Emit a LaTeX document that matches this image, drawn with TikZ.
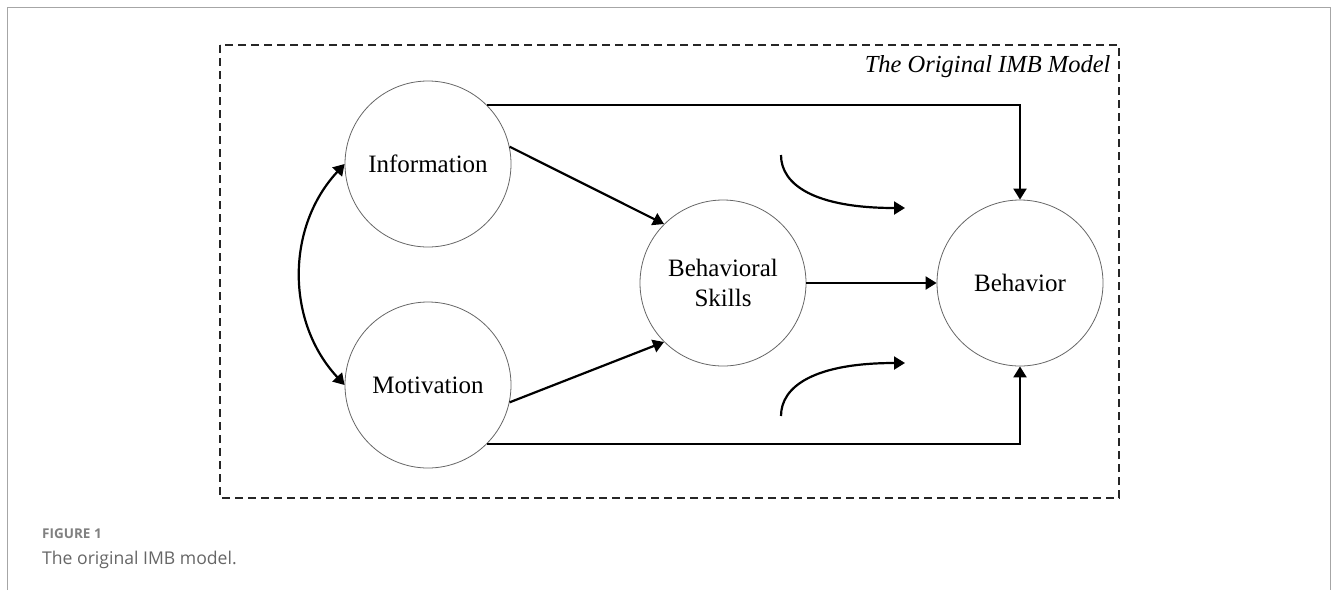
\documentclass[tikz,border=0pt]{standalone}
\usepackage{fontspec}
\setmainfont{Liberation Serif}
\newfontfamily\capfont{Open Sans}
\usetikzlibrary{arrows.meta}
\begin{document}
\begin{tikzpicture}[x=1pt,y=-1pt,
  concept/.style={circle, draw=black!60, line width=0.8pt, minimum size=166pt, inner sep=0pt,
    font=\fontsize{25}{30}\selectfont, align=center},
  conn/.style={line width=2.2pt, -{Triangle[length=11pt,width=13pt]}},
  biconn/.style={line width=2.2pt, {Triangle[length=11pt,width=13pt]}-{Triangle[length=11pt,width=13pt]}},
  frame/.style={draw=black!35, line width=1pt},
  modelbox/.style={draw=black!85, line width=1.5pt, dash pattern=on 8pt off 5pt},
]
\useasboundingbox (0,0) rectangle (1331,590);
\draw[frame] (7,590) -- (7,7) -- (1330,7) -- (1330,590);
\draw[modelbox] (220,45) rectangle (1119,498);
\node[anchor=base east, font=\itshape\fontsize{24.5}{28}\selectfont] (title) at (1114,72) {The Original IMB Model};

\node[concept] (info) at (428,164) {Information};
\node[concept] (mot) at (428,385) {Motivation};
\node[concept] (bs) at (723,283) {Behavioral\\Skills};
\node[concept] (beh) at (1020,283) {Behavior};

\draw[conn] (info.45) -| (beh.north);
\draw[conn] (mot.-45) -| (beh.south);
\draw[conn] (info.12) -- (bs.135);
\draw[conn] (mot.-12) -- (bs.225);
\draw[conn] (bs.east) -- (beh.west);
\draw[biconn] (info.west) to[bend right=43] (mot.west);

\coordinate (us) at (781,155);
\coordinate (ue) at (905,208);
\coordinate (ls) at (781,416);
\coordinate (le) at (905,363);
\draw[conn] (us) .. controls (781,185) and (815,208) .. (ue);
\draw[conn] (ls) .. controls (781,386) and (815,363) .. (le);

\node[anchor=base west, font=\capfont\bfseries\fontsize{13.5}{16}\selectfont, text=black!50, inner sep=0pt] (figlabel) at (42,538) {FIGURE 1};
\node[anchor=base west, font=\capfont\fontsize{17.6}{21}\selectfont, text=black!60, inner sep=0pt] (caption) at (42,564) {The original IMB model.};
\end{tikzpicture}
\end{document}
